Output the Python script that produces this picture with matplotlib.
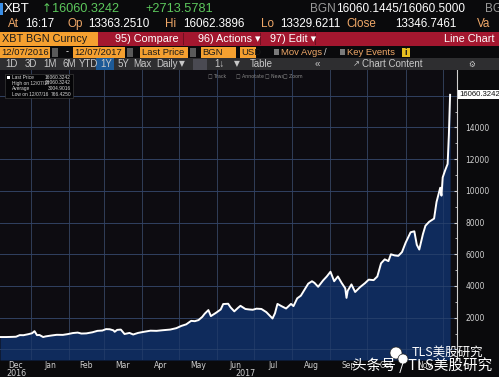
import numpy as np
import pandas as pd
import matplotlib
matplotlib.use('Agg')
import matplotlib.pyplot as plt
import matplotlib.dates as mdates
from matplotlib.patches import Rectangle, Ellipse

plt.rcParams['font.family'] = ['DejaVu Sans', 'Noto Sans CJK SC']

W, H = 499, 377

# XBT BGN daily closes
dates = ['2016-12-07', '2016-12-12', '2016-12-17', '2016-12-20', '2016-12-23', '2016-12-26',
         '2016-12-30', '2017-01-02', '2017-01-04', '2017-01-06', '2017-01-08', '2017-01-11',
         '2017-01-13', '2017-01-18', '2017-01-22', '2017-01-27', '2017-01-31', '2017-02-04',
         '2017-02-08', '2017-02-11', '2017-02-15', '2017-02-20', '2017-02-24', '2017-02-28',
         '2017-03-03', '2017-03-06', '2017-03-09', '2017-03-10', '2017-03-12', '2017-03-15',
         '2017-03-18', '2017-03-22', '2017-03-25', '2017-03-29', '2017-04-02', '2017-04-08',
         '2017-04-13', '2017-04-18', '2017-04-24', '2017-04-29', '2017-05-03', '2017-05-07',
         '2017-05-11', '2017-05-14', '2017-05-17', '2017-05-20', '2017-05-22', '2017-05-25',
         '2017-05-27', '2017-05-31', '2017-06-04', '2017-06-06', '2017-06-10', '2017-06-12',
         '2017-06-15', '2017-06-18', '2017-06-20', '2017-06-24', '2017-06-27', '2017-06-30',
         '2017-07-03', '2017-07-07', '2017-07-11', '2017-07-16', '2017-07-18', '2017-07-20',
         '2017-07-23', '2017-07-27', '2017-07-31', '2017-08-02', '2017-08-05', '2017-08-08',
         '2017-08-12', '2017-08-14', '2017-08-17', '2017-08-19', '2017-08-22', '2017-08-26',
         '2017-08-29', '2017-09-01', '2017-09-04', '2017-09-07', '2017-09-10', '2017-09-13',
         '2017-09-14', '2017-09-15', '2017-09-18', '2017-09-21', '2017-09-25', '2017-09-29',
         '2017-10-02', '2017-10-06', '2017-10-09', '2017-10-12', '2017-10-15', '2017-10-18',
         '2017-10-20', '2017-10-23', '2017-10-26', '2017-10-29', '2017-11-01', '2017-11-05',
         '2017-11-08', '2017-11-10', '2017-11-12', '2017-11-15', '2017-11-17', '2017-11-20',
         '2017-11-24', '2017-11-26', '2017-11-28', '2017-11-29', '2017-11-30', '2017-12-01',
         '2017-12-03', '2017-12-05', '2017-12-06', '2017-12-07']
prices = [780, 780, 790, 800, 900, 895,
          960, 1020, 1150, 900, 910, 780,
          820, 880, 920, 915, 965, 1030,
          1060, 1000, 1010, 1080, 1170, 1190,
          1280, 1270, 1200, 1110, 1230, 1250,
          970, 1040, 940, 1040, 1100, 1180,
          1170, 1210, 1250, 1340, 1480, 1580,
          1800, 1780, 1850, 2050, 2250, 2480,
          2100, 2300, 2520, 2860, 2880, 2650,
          2400, 2620, 2750, 2550, 2520, 2500,
          2570, 2550, 2350, 1950, 2280, 2870,
          2740, 2580, 2870, 2730, 3220, 3390,
          3900, 4150, 4300, 4200, 3950, 4350,
          4600, 4900, 4300, 4600, 4200, 3850,
          3250, 3700, 4100, 3620, 3930, 4180,
          4400, 4370, 4600, 5430, 5680, 5570,
          6000, 5930, 5900, 6140, 6740, 7390,
          7450, 6600, 6300, 7280, 7800, 8050,
          8250, 9300, 9900, 10200, 9700, 10850,
          11300, 11700, 13500, 16060.3242]

month_labels = ['Dec', 'Jan', 'Feb', 'Mar', 'Apr', 'May', 'Jun', 'Jul', 'Aug', 'Sep', 'Oct', 'Nov']
month_starts = ['2016-12-07', '2017-01-01', '2017-02-01', '2017-03-01', '2017-04-01', '2017-05-01',
                '2017-06-01', '2017-07-01', '2017-08-01', '2017-09-01', '2017-10-01', '2017-11-01',
                '2017-12-01']
y_ticks = [2000, 4000, 6000, 8000, 10000, 12000, 14000]
last_price = '16060.3242'

BG = '#0a0a0c'
ORANGE_TXT = '#f0a868'
GREEN = '#5cc85c'
SANS = ['Liberation Sans', 'DejaVu Sans']

fig = plt.figure(figsize=(W / 100, H / 100), dpi=100)
fig.patch.set_facecolor(BG)


def fx(x):
    return x / W


def fy(y):
    return 1 - y / H


def ft(x, y, s, **kw):
    kw.setdefault('va', 'center')
    kw.setdefault('color', 'white')
    kw.setdefault('family', SANS)
    fig.text(fx(x), fy(y), s, **kw)


def box(x0, y0, x1, y1, color, **kw):
    fig.patches.append(Rectangle((fx(x0), fy(y1)), (x1 - x0) / W, (y1 - y0) / H,
                                 transform=fig.transFigure, facecolor=color,
                                 edgecolor=kw.pop('ec', 'none'), lw=kw.pop('lw', 0), **kw))


# ---- header row 0
box(0, 3, 3, 15, '#3a8ee6')
ft(4, 9, 'XBT', fontsize=9.5)
ft(42, 9, '\u2191', fontsize=8.5, color=GREEN, family='DejaVu Sans')
ft(52, 9, '16060.3242', fontsize=9.2, color=GREEN)
ft(145, 9, '+2713.5781', fontsize=9.2, color=GREEN)
ft(310, 9, 'BGN', fontsize=8.5, color='#9a9a9a')
ft(336, 9, '16060.1445/16060.5000', fontsize=8.5)
ft(485, 9, 'BGI', fontsize=8.5, color='#9a9a9a')

# ---- header row 1
for x, s in [(8, 'At'), (68, 'Op'), (165, 'Hi'), (261, 'Lo'), (346, 'Close'), (477, 'Va')]:
    ft(x, 24, s, fontsize=8.4, color=ORANGE_TXT)
for x, s in [(25, '16:17'), (88, '13363.2510'), (183, '16062.3896'), (280, '13329.6211'),
             (395, '13346.7461')]:
    ft(x, 24, s, fontsize=8.4)

# ---- header row 2
box(0, 32, 98, 46, '#f5a030')
box(98, 32, W, 46, '#a3172f')
ft(2, 39, 'XBT BGN Curncy', fontsize=7.8, color='#1a1a1a')
ft(115, 39, '95) Compare', fontsize=7.8)
ft(198, 39, '96) Actions \u25be', fontsize=7.8)
ft(270, 39, '97) Edit \u25be', fontsize=7.8)
ft(495, 39, 'Line Chart', fontsize=7.8, ha='right')
for x in [183, 260, 315]:
    box(x, 33, x + 0.7, 45, '#6e0f20')

# ---- header row 3
for x0, x1, s in [(0, 50, '12/07/2016'), (73, 125, '12/07/2017'), (140, 188, 'Last Price'),
                  (201, 236, 'BGN'), (240, 256, 'USD')]:
    box(x0, 47, x1, 57.5, '#f5a030')
    ft(x0 + 1.5, 52.5, s, fontsize=6.8, color='#1a1a1a')
for x in [52, 127, 190]:
    box(x, 48, x + 6, 56.5, '#5a5a5a')
ft(66, 52, '-', fontsize=6.5)
box(274, 49, 279, 55, '#7a7a7a')
ft(281, 52.5, 'Mov Avgs', fontsize=6.8, color=ORANGE_TXT)
ft(324, 52.5, '/', fontsize=6.8, color='#cfcfcf')
box(340, 49, 345, 55, '#7a7a7a')
ft(347, 52.5, 'Key Events', fontsize=6.8, color=ORANGE_TXT)
box(402, 48, 410, 57, '#e8c020')
ft(404.8, 52.5, 'i', fontsize=6.5, color='#1a1a1a', fontweight='bold')

# ---- toolbar row 4
box(0, 58, W, 70, '#2e2e30')
box(96, 58, 114, 70, '#1d5a97')
box(193, 59, 207, 69.5, '#4a4a52')
for x, s in [(5, '1D'), (25, '3D'), (43, '1M'), (63, '6M'), (79, 'YTD'), (100, '1Y'),
             (118, '5Y'), (133, 'Max'), (156, 'Daily'), (214, '1\u2193'),
             (250, 'Table'), (315, '\u00ab')]:
    ft(x, 64, s, fontsize=7, color='#c8c8c8')
for x, s in [(179, '\u25bc'), (234, '\u25bc'), (468, '\u2699')]:
    ft(x, 64, s, fontsize=5.5, color='#c8c8c8', family='DejaVu Sans')
ft(353, 64, '\u2197', fontsize=6, color='#c8c8c8', family='DejaVu Sans')
ft(362, 64, 'Chart Content', fontsize=7, color='#c8c8c8')

# ---- chart
ax = fig.add_axes([0, fy(360), fx(457), (360 - 70) / H])
ax.set_facecolor('#0d0c11')
x = mdates.date2num(pd.to_datetime(dates))
ymin, ymax = -669, 17627
ax.fill_between(x, prices, ymin, color='#0f2b5c', lw=0, zorder=2)
ax.plot(x, prices, color='white', lw=1.4, zorder=3)

x0 = mdates.date2num(pd.Timestamp('2016-12-07'))
ax.set_xlim(x0, x0 + 370.6)
ax.set_ylim(ymin, ymax)
for m in mdates.date2num(pd.to_datetime(month_starts[1:])):
    ax.axvline(m, color='#34343c', lw=0.7, zorder=1)
    ax.axvline(m, color='#2e4670', lw=0.6, zorder=2.5, alpha=0.6)
for v in range(0, 18000, 2000):
    ax.axhline(v, color='#34343c', lw=0.7, zorder=1)
    ax.axhline(v, color='#2e4670', lw=0.6, zorder=2.5, alpha=0.8)
ax.set_xticks([])
ax.set_yticks([])
for sp in ax.spines.values():
    sp.set_visible(False)

# right axis
ax2 = fig.add_axes([fx(457), fy(360), fx(W - 457), (360 - 70) / H])
ax2.set_facecolor(BG)
ax2.set_ylim(ymin, ymax)
ax2.set_xlim(0, 1)
ax2.set_xticks([])
ax2.yaxis.tick_left()
ax2.set_yticks(y_ticks)
ax2.set_yticklabels([str(v) for v in y_ticks])
ax2.set_yticks(list(range(1000, 17000, 2000)), minor=True)
ax2.tick_params(axis='y', which='major', direction='out', length=2, pad=-8, colors='#d0d0d0',
                labelsize=5.5)
ax2.tick_params(axis='y', which='minor', length=1.5, color='#d0d0d0')
for lab in ax2.get_yticklabels():
    lab.set_horizontalalignment('left')
for sp in ['top', 'right', 'bottom']:
    ax2.spines[sp].set_visible(False)
ax2.spines['left'].set_color('#d0d0d0')
ax2.spines['left'].set_linewidth(0.8)
ax2.text(0.06, prices[-1], last_price, transform=ax2.get_yaxis_transform(), fontsize=5.6,
         color='#111111', va='center', ha='left', family=SANS,
         bbox=dict(boxstyle='square,pad=0.15', fc='white', ec='none'))

# legend box
box(5, 74, 73, 98, '#050507', ec='#3a3a3a', lw=0.5)
box(7, 76, 10, 79, 'white')
legend_rows = [('Last Price', '16060.3242'), ('High on 12/07/17', '16060.3242'),
               ('Average', '3004.9016'), ('Low on 12/07/16', '766.4250')]
for i, (a, b) in enumerate(legend_rows):
    yy = 77.5 + i * 5.5
    ft(12, yy, a, fontsize=3.5, color='#d8d8d8')
    ft(71, yy, b, fontsize=3.5, color='#d8d8d8', ha='right')
for xx, s in [(208, 'Track'), (236, 'Annotate'), (265, 'News'), (283, 'Zoom')]:
    ft(xx, 75.5, '\u25a1 ' + s, fontsize=3.4, color='#8a8a8a', family='DejaVu Sans')

# bottom labels
mids = []
for a, b in zip(month_starts[:-1], month_starts[1:]):
    ta, tb = pd.Timestamp(a), pd.Timestamp(b)
    mids.append(mdates.date2num(ta + (tb - ta) / 2))
for m, lab in zip(mids, month_labels):
    ax.text(m, -0.018, lab, transform=ax.get_xaxis_transform(), ha='center', va='center',
            fontsize=5.5, color='#d0d0d0', clip_on=False)
ft(16, 373, '2016', fontsize=5.8, color='#d0d0d0', ha='center', family='DejaVu Sans')
ft(245, 373, '2017', fontsize=5.8, color='#d0d0d0', ha='center', family='DejaVu Sans')
box(30.5, 360, 31.2, 377, '#5a5a5a')

# watermark
for cx, cy, r in [(396, 353, 6.0), (403, 359, 5.0)]:
    fig.patches.append(Ellipse((fx(cx), fy(cy)), 2 * r / W, 2 * r / H, transform=fig.transFigure,
                               facecolor='white', edgecolor='#222222', lw=0.5))
ft(447, 352.5, 'TLS美股研究', fontsize=9, color='white', ha='center', family=['Noto Sans CJK SC'])
ft(422, 365, '头条号 / TLS美股研究', fontsize=10.5, color='white', ha='center',
   family=['Noto Sans CJK SC'])

fig.savefig('out.png', dpi=100, facecolor=BG)
